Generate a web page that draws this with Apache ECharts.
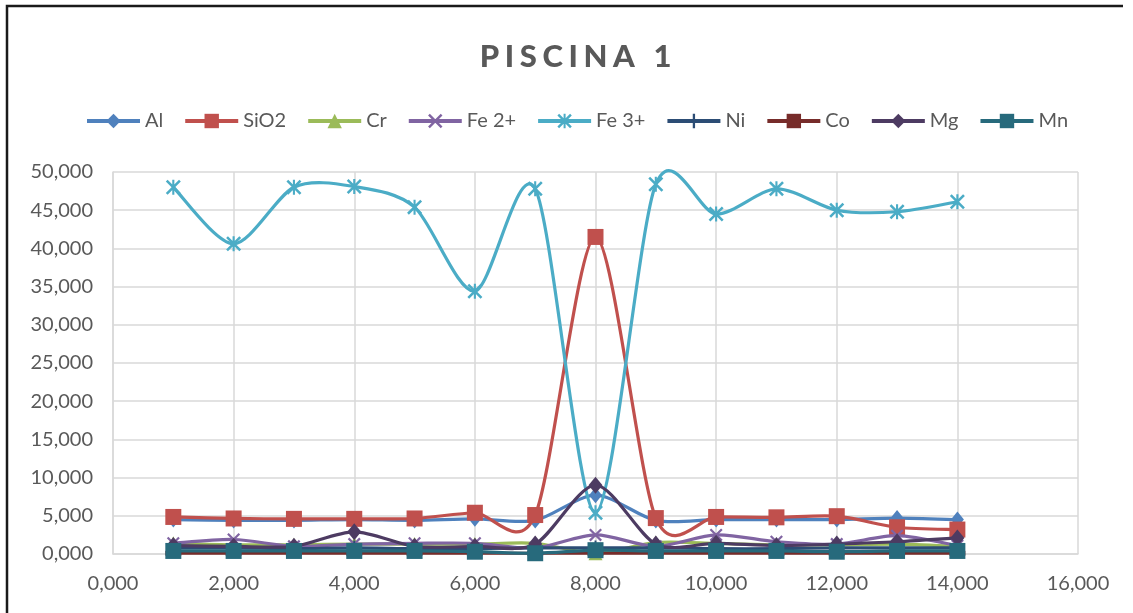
<!DOCTYPE html>
<html>
<head>
<meta charset="utf-8">
<script src="https://cdn.jsdelivr.net/npm/echarts@6/dist/echarts.min.js"></script>
<style>
  html, body { margin: 0; padding: 0; background: #fff; }
  #chart { width: 1133px; height: 613px; }
</style>
</head>
<body>
<div id="chart"></div>
<script>
// Sample positions (x) and measured concentrations per element
const xValues = [1, 2, 3, 4, 5, 6, 7, 8, 9, 10, 11, 12, 13, 14];
const seriesNames = ['Al', 'SiO2', 'Cr', 'Fe 2+', 'Fe 3+', 'Ni', 'Co', 'Mg', 'Mn'];
const alValues   = [4.5, 4.4, 4.4, 4.5, 4.4, 4.6, 4.4, 7.7, 4.4, 4.5, 4.5, 4.5, 4.7, 4.5];
const sio2Values = [4.85, 4.65, 4.6, 4.6, 4.65, 5.4, 5.1, 41.5, 4.7, 4.85, 4.8, 4.95, 3.5, 3.2];
const crValues   = [1.4, 1.2, 1.2, 1.3, 1.3, 1.3, 1.4, 0.1, 1.5, 1.4, 1.2, 1.2, 1.3, 1.0];
const fe2Values  = [1.4, 1.9, 1.0, 1.3, 1.4, 1.4, 0.8, 2.5, 1.0, 2.5, 1.6, 1.3, 2.4, 1.1];
const fe3Values  = [48.0, 40.6, 48.0, 48.1, 45.4, 34.4, 47.8, 5.4, 48.4, 44.5, 47.8, 45.0, 44.8, 46.1];
const niValues   = [0.8, 0.8, 0.7, 0.8, 0.7, 0.7, 0.8, 0.8, 0.8, 0.7, 0.7, 0.8, 0.8, 0.8];
const coValues   = [0.1, 0.1, 0.1, 0.1, 0.1, 0.1, 0.1, 0.1, 0.1, 0.1, 0.1, 0.1, 0.1, 0.1];
const mgValues   = [1.1, 1.0, 1.0, 2.9, 1.0, 1.0, 1.3, 9.0, 1.3, 1.4, 1.1, 1.3, 1.6, 2.1];
const mnValues   = [0.4, 0.4, 0.4, 0.4, 0.4, 0.3, 0.1, 0.5, 0.4, 0.4, 0.4, 0.3, 0.4, 0.4];
const chartTitle = 'PISCINA 1';

const colors = ['#4F81BD', '#C0504D', '#9BBB59', '#8064A2', '#4BACC6', '#2C4D75', '#772C2A', '#4D3B62', '#276A7C'];

// Marker shapes
const xMark = 'path://M0,1.2 L1.2,0 L10,8.8 L8.8,10 Z M8.8,0 L10,1.2 L1.2,10 L0,8.8 Z';
const starMark = 'path://M0,1.2 L1.2,0 L10,8.8 L8.8,10 Z M8.8,0 L10,1.2 L1.2,10 L0,8.8 Z M4.3,0 L5.7,0 L5.7,10 L4.3,10 Z';
const plusMark = 'path://M4.2,0 L5.8,0 L5.8,10 L4.2,10 Z M0,4.3 L10,4.3 L10,5.7 L0,5.7 Z';
const dashMark = 'path://M0,0 L10,0 L10,3 L0,3 Z';

const symbols = ['diamond', 'rect', 'triangle', xMark, starMark, plusMark, dashMark, 'diamond', 'rect'];
const symbolSizes = [[13, 16], 16, 14, 13, 15, [12, 15], 16, [14, 17], 16];
const allValues = [alValues, sio2Values, crValues, fe2Values, fe3Values, niValues, coValues, mgValues, mnValues];

const fmt = v => v.toFixed(3).replace('.', ',');
const labelFont = 'Lato, "Open Sans", sans-serif';

// Markers (line itself hidden; the smoothed curve is drawn by a custom series)
const markerSeries = seriesNames.map((name, i) => ({
  name: name,
  type: 'line',
  data: xValues.map((x, k) => [x, allValues[i][k]]),
  symbol: symbols[i],
  symbolSize: symbolSizes[i],
  symbolKeepAspect: i === 6,
  showAllSymbol: true,
  lineStyle: { color: colors[i], width: 3.2, opacity: 0 },
  itemStyle: { color: colors[i] },
  z: 3 + 2 * i
}));

// Cardinal-spline smoothed curve through the data points, in pixel space
const TENSION = 1 / 7;
function curveSeries(name, values, color, i) {
  return {
    name: name,
    type: 'custom',
    data: xValues.map((x, k) => [x, values[k]]),
    z: 2 + 2 * i,
    silent: true,
    renderItem: function (params, api) {
      if (params.dataIndex !== 0) return null;
      const p = xValues.map((x, k) => api.coord([x, values[k]]));
      let d = 'M' + p[0][0] + ',' + p[0][1];
      for (let k = 0; k < p.length - 1; k++) {
        const p0 = p[k - 1] || p[k];
        const p1 = p[k];
        const p2 = p[k + 1];
        const p3 = p[k + 2] || p[k + 1];
        const c1x = p1[0] + (p2[0] - p0[0]) * TENSION, c1y = p1[1] + (p2[1] - p0[1]) * TENSION;
        const c2x = p2[0] - (p3[0] - p1[0]) * TENSION, c2y = p2[1] - (p3[1] - p1[1]) * TENSION;
        d += ' C' + c1x + ',' + c1y + ' ' + c2x + ',' + c2y + ' ' + p2[0] + ',' + p2[1];
      }
      return {
        type: 'path',
        shape: { pathData: d },
        style: { stroke: color, lineWidth: 3.2, fill: null, lineJoin: 'round', lineCap: 'round' }
      };
    }
  };
}
const curves = seriesNames.map((name, i) => curveSeries(name, allValues[i], colors[i], i));

const chart = echarts.init(document.getElementById('chart'), null, { renderer: 'canvas' });
chart.setOption({
  backgroundColor: '#ffffff',
  animation: false,
  color: colors,
  title: {
    text: chartTitle.split('').map(c => '{s|' + c + '}').join(''),
    left: 472,
    top: 36,
    textStyle: {
      rich: {
        s: { fontSize: 31, fontWeight: 900, color: '#595959', fontFamily: labelFont, padding: [0, 2.8] }
      }
    }
  },
  legend: {
    data: seriesNames,
    left: 85,
    top: 111,
    padding: 0,
    itemWidth: 53,
    itemHeight: 18,
    itemGap: 20,
    lineStyle: { width: 4, opacity: 1 },
    textStyle: { fontSize: 20, color: '#595959', fontFamily: labelFont }
  },
  grid: { left: 113, right: 55, top: 172, bottom: 59, containLabel: false },
  xAxis: {
    type: 'value',
    min: 0, max: 16, interval: 2,
    axisLine: { show: true, lineStyle: { color: '#D9D9D9', width: 1.5 } },
    axisTick: { show: false },
    splitLine: { show: true, lineStyle: { color: '#D9D9D9', width: 1.5 } },
    axisLabel: { formatter: fmt, fontSize: 20, color: '#595959', fontFamily: labelFont, margin: 20 }
  },
  yAxis: {
    type: 'value',
    min: 0, max: 50, interval: 5,
    axisLine: { show: true, lineStyle: { color: '#D9D9D9', width: 1.5 } },
    axisTick: { show: false },
    splitLine: { show: true, lineStyle: { color: '#D9D9D9', width: 1.5 } },
    axisLabel: { formatter: fmt, fontSize: 20, color: '#595959', fontFamily: labelFont, margin: 20 }
  },
  graphic: [{
    type: 'polyline',
    shape: { points: [[7, 613], [7, 6], [1123, 6]] },
    style: { stroke: '#1a1a1a', lineWidth: 2.5, fill: null },
    silent: true
  }],
  series: markerSeries.concat(curves)
});
</script>
</body>
</html>
